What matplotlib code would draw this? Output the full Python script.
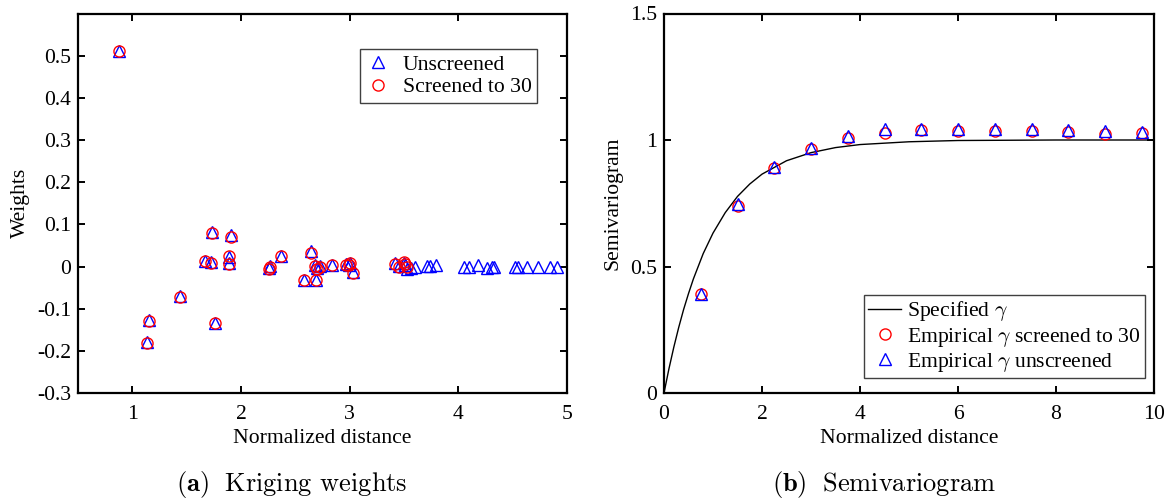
import numpy as np
import matplotlib
matplotlib.use("Agg")
import matplotlib.pyplot as plt
from matplotlib.ticker import FuncFormatter

plt.rcParams['font.family'] = ['Liberation Serif', 'DejaVu Serif']
plt.rcParams['mathtext.fontset'] = 'cm'
plt.rcParams['axes.unicode_minus'] = False

# (a) kriging weights vs normalized distance
dist_unscr = [0.88, 1.135, 1.155, 1.44, 1.67, 1.72, 1.73, 1.76, 1.89, 1.89,
              1.905, 2.26, 2.27, 2.37, 2.58, 2.64, 2.68, 2.69, 2.70, 2.73,
              2.84, 2.97, 2.99, 3.00, 3.03, 3.42, 3.45, 3.50, 3.51, 3.53,
              3.56, 3.60, 3.71, 3.74, 3.79, 4.05, 4.10, 4.18, 4.26, 4.31,
              4.33, 4.52, 4.55, 4.63, 4.73, 4.84, 4.91]
w_unscr = [0.512, -0.180, -0.128, -0.070, 0.013, 0.010, 0.081, -0.133, 0.022, 0.008,
           0.074, -0.003, 0.002, 0.026, -0.031, 0.037, 0.003, -0.031, -0.004, 0.001,
           0.004, 0.005, 0.004, 0.009, -0.012, 0.008, 0.001, 0.009, 0.003, -0.005,
           -0.003, 0.000, 0.001, 0.002, 0.004, 0.000, 0.000, 0.003, -0.003, 0.000,
           -0.002, 0.000, 0.000, 0.000, 0.000, 0.000, 0.000]

dist_scr = dist_unscr[:30]
w_scr = [0.510, -0.182, -0.130, -0.072, 0.012, 0.009, 0.079, -0.135, 0.025, 0.006,
         0.071, -0.005, 0.000, 0.024, -0.033, 0.031, 0.001, -0.033, -0.006, 0.000,
         0.003, 0.004, 0.003, 0.008, -0.015, 0.007, -0.001, 0.010, 0.006, 0.000]

# (b) semivariogram
lag = [0.75, 1.5, 2.25, 3.0, 3.75, 4.5, 5.25, 6.0, 6.75, 7.5, 8.25, 9.0, 9.75]
gamma_scr = [0.390, 0.741, 0.890, 0.965, 1.007, 1.027, 1.038, 1.034, 1.037, 1.036, 1.030, 1.025, 1.027]
gamma_unscr = [0.393, 0.746, 0.893, 0.970, 1.015, 1.043, 1.045, 1.045, 1.042, 1.042, 1.041, 1.034, 1.031]

h_model = [0, 0.1, 0.2, 0.3, 0.4, 0.5, 0.6, 0.8, 1.0, 1.25, 1.5, 1.75, 2.0,
           2.5, 3.0, 3.5, 4.0, 5.0, 6.0, 7.0, 8.0, 10.0]
gamma_model = [0, 0.095, 0.181, 0.259, 0.330, 0.393, 0.451, 0.551, 0.632, 0.713,
               0.777, 0.826, 0.865, 0.918, 0.950, 0.970, 0.982, 0.993, 0.998,
               0.999, 1.0, 1.0]

fig = plt.figure(figsize=(11.72, 4.99), dpi=100)
ax1 = fig.add_axes([78 / 1172, 106 / 499, 489 / 1172, 379.5 / 499])
ax2 = fig.add_axes([664 / 1172, 106 / 499, 490 / 1172, 379.5 / 499])

fmt = FuncFormatter(lambda v, p: '%g' % round(v, 3))
fs = 15.6

for ax in (ax1, ax2):
    ax.tick_params(direction='in', top=True, right=True, length=5, width=1.4,
                   labelsize=fs, pad=5)
    ax.tick_params(axis='x', pad=8.5)
    for s in ax.spines.values():
        s.set_linewidth(1.6)
    ax.xaxis.set_major_formatter(fmt)
    ax.yaxis.set_major_formatter(fmt)

ax1.plot(dist_unscr, w_unscr, '^', ms=9, mfc='none', mec='blue', mew=1.0, label='Unscreened')
ax1.plot(dist_scr, w_scr, 'o', ms=8, mfc='none', mec='red', mew=1.0, label='Screened to 30')
ax1.set_xlim(0.5, 5)
ax1.set_ylim(-0.3, 0.6)
ax1.set_xticks([1, 2, 3, 4, 5])
ax1.set_yticks(np.arange(-0.3, 0.51, 0.1))
ax1.set_xlabel('Normalized distance', fontsize=fs, labelpad=4)
ax1.set_ylabel('Weights', fontsize=fs, labelpad=5)
leg1 = ax1.legend(loc='upper right', bbox_to_anchor=(0.9387, 0.9065), fontsize=fs,
                  fancybox=False, framealpha=1, edgecolor='#404040', borderaxespad=0,
                  handlelength=1.1, handletextpad=0.6, borderpad=0.25, labelspacing=0.12)
leg1.get_frame().set_linewidth(1.0)

ax2.plot(h_model, gamma_model, '-', color='black', lw=1.0, label=r'Specified $\gamma$')
ax2.plot(lag, gamma_scr, 'o', ms=8, mfc='none', mec='red', mew=1.0,
         label=r'Empirical $\gamma$ screened to 30')
ax2.plot(lag, gamma_unscr, '^', ms=9, mfc='none', mec='blue', mew=1.0,
         label=r'Empirical $\gamma$ unscreened')
ax2.set_xlim(0, 10)
ax2.set_ylim(0, 1.5)
ax2.set_xticks([0, 2, 4, 6, 8, 10])
ax2.set_yticks([0, 0.5, 1, 1.5])
ax2.set_xlabel('Normalized distance', fontsize=fs, labelpad=4)
ax2.set_ylabel('Semivariogram', fontsize=fs, labelpad=5)
leg2 = ax2.legend(loc='lower right', bbox_to_anchor=(0.9816, 0.0395), fontsize=fs,
                  fancybox=False, framealpha=1, edgecolor='#404040', borderaxespad=0,
                  handlelength=1.5, handletextpad=0.3, borderpad=0.2, labelspacing=0.1)
leg2.get_frame().set_linewidth(1.0)

fig.text(292 / 1172, 1 - 484 / 499, r'$\mathbf{(a)}\;$ Kriging weights',
         ha='center', va='center', fontsize=19, family='cmr10')
fig.text(884 / 1172, 1 - 484 / 499, r'$\mathbf{(b)}\;$ Semivariogram',
         ha='center', va='center', fontsize=19, family='cmr10')

fig.savefig('out.png', dpi=100)
